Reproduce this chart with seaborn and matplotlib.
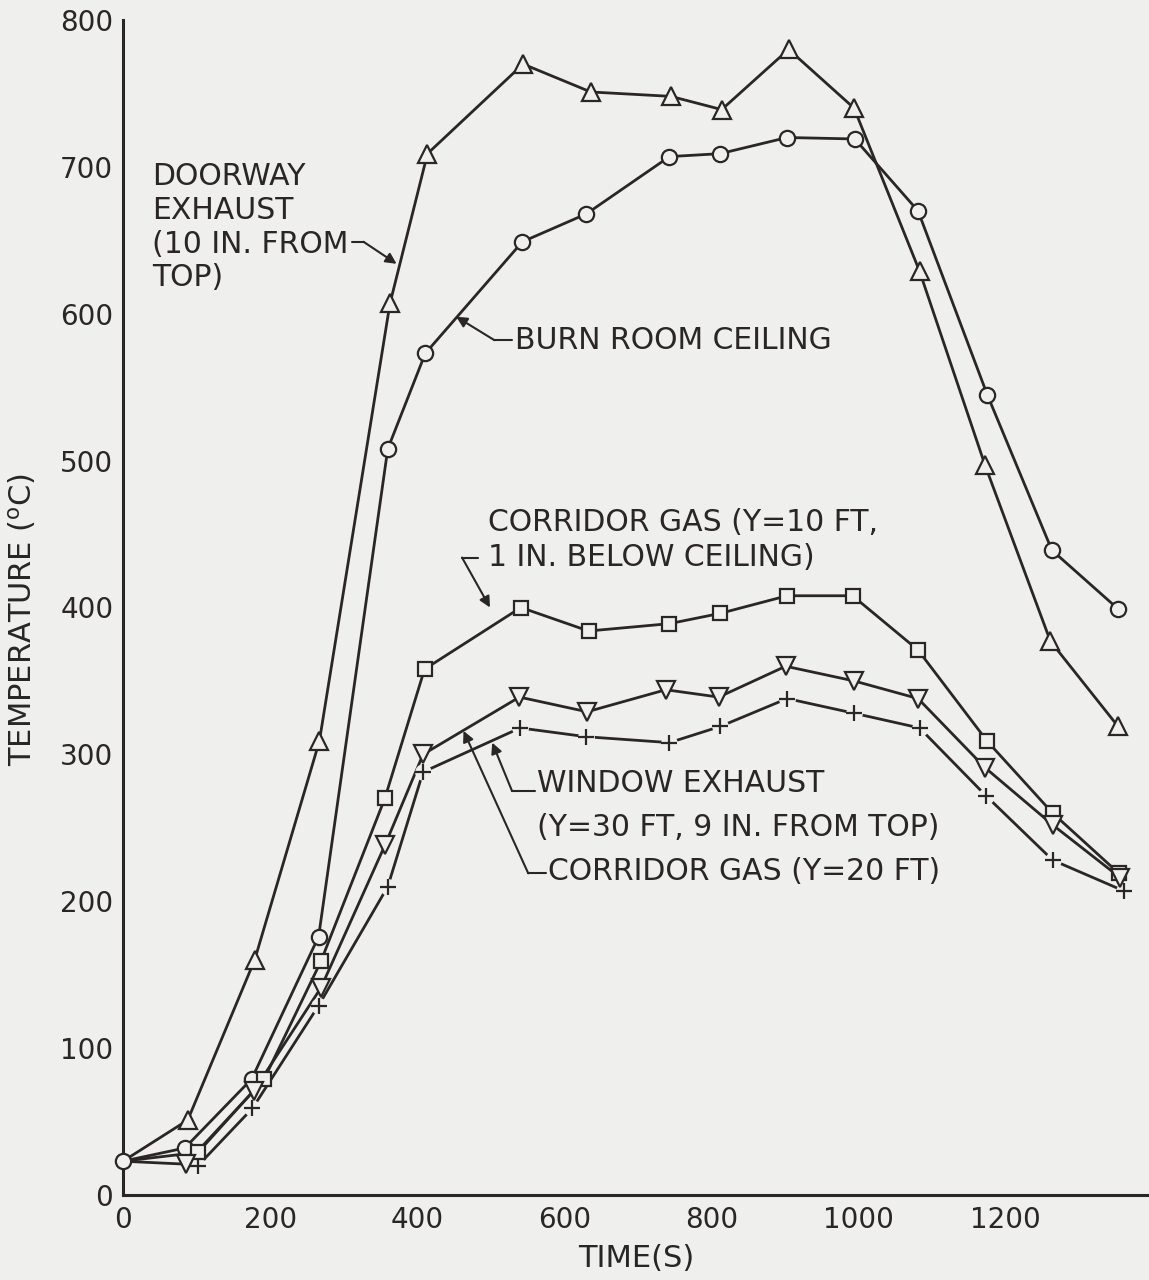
import matplotlib
matplotlib.use("Agg")
import matplotlib.pyplot as plt
import seaborn as sns

# valores: tiempo (s) y temperatura (C)
start_t = [0]
start_T = [23]

doorway_t = [88, 179, 267, 363, 414, 544, 636, 745, 814, 905, 994, 1083, 1172, 1261, 1353]
doorway_T = [51, 160, 309, 607, 709, 770, 751, 748, 739, 780, 740, 629, 497, 377, 319]

burn_t = [0, 84, 175, 266, 360, 411, 543, 630, 743, 812, 903, 995, 1081, 1175, 1263, 1353]
burn_T = [23, 32, 79, 176, 508, 573, 649, 668, 707, 709, 720, 719, 670, 545, 439, 399]

corr10_t = [102, 192, 269, 356, 410, 541, 633, 743, 812, 903, 992, 1081, 1175, 1264, 1354]
corr10_T = [29, 79, 159, 270, 358, 400, 384, 389, 396, 408, 408, 371, 309, 260, 219]

window_t = [85, 178, 269, 356, 408, 539, 631, 738, 810, 901, 994, 1081, 1172, 1264, 1356]
window_T = [21, 71, 141, 238, 300, 339, 329, 344, 339, 360, 350, 338, 291, 252, 216]

corr20_t = [102, 176, 266, 360, 408, 540, 630, 743, 812, 903, 994, 1083, 1173, 1264, 1361]
corr20_T = [20, 59, 129, 210, 288, 318, 312, 308, 319, 338, 328, 318, 272, 228, 207]

x_ticks = [0, 200, 400, 600, 800, 1000, 1200]
y_ticks = [0, 100, 200, 300, 400, 500, 600, 700, 800]

BG = "#efefed"
INK = "#2b2626"

sns.set_style("white")
plt.rcParams["font.family"] = ["DejaVu Sans"]
plt.rcParams["text.color"] = INK

fig = plt.figure(figsize=(11.49, 12.8), dpi=100, facecolor=BG)
ax = fig.add_axes([123 / 1149, 85 / 1280, 1 - 123 / 1149, 1175 / 1280])
ax.set_facecolor(BG)

# curvas (todas salen del mismo punto inicial excepto la de +)
lines = [
    (start_t + doorway_t, start_T + doorway_T),
    (burn_t, burn_T),
    (start_t + corr10_t, start_T + corr10_T),
    (start_t + window_t, start_T + window_T),
    (corr20_t, corr20_T),
]
for tt, TT in lines:
    sns.lineplot(x=tt, y=TT, ax=ax, color=INK, linewidth=2.0, sort=False,
                 estimator=None, zorder=2)

# marcadores huecos
mk = dict(linestyle="none", mfc=BG, mec=INK, mew=1.6, clip_on=False, zorder=4)
ax.plot(doorway_t, doorway_T, marker="^", ms=13, **mk)
ax.plot(burn_t, burn_T, marker="o", ms=11, **mk)
ax.plot(corr10_t, corr10_T, marker="s", ms=10, **mk)
ax.plot(window_t, window_T, marker="v", ms=13, **mk)
# las cruces cortan la linea
ax.plot(corr20_t, corr20_T, linestyle="none", marker="o", ms=11, mfc=BG, mec=BG, zorder=3)
ax.plot(corr20_t, corr20_T, linestyle="none", marker="+", ms=11, mec=INK, mew=1.6,
        clip_on=False, zorder=4)

# etiquetas con flechas
fs = 21.5
arrow = dict(arrowstyle="-|>", color=INK, lw=1.5, mutation_scale=16,
             shrinkA=0, shrinkB=0)

ax.text(39, 703, "DOORWAY\nEXHAUST\n(10 IN. FROM\nTOP)", fontsize=fs,
        va="top", ha="left", linespacing=1.2)
ax.plot([311, 327], [649, 649], color=INK, lw=1.5)
ax.annotate("", xy=(372, 634), xytext=(327, 649), arrowprops=arrow)

ax.text(533, 582, "BURN ROOM CEILING", fontsize=fs, va="center", ha="left")
ax.plot([529, 505], [582, 582], color=INK, lw=1.5)
ax.annotate("", xy=(453, 598), xytext=(505, 582), arrowprops=arrow)

ax.text(496, 458, "CORRIDOR GAS (Y=10 FT,", fontsize=fs, va="center", ha="left")
ax.text(496, 434, "1 IN. BELOW CEILING)", fontsize=fs, va="center", ha="left")
ax.plot([482, 461], [434, 434], color=INK, lw=1.5)
ax.annotate("", xy=(499, 400), xytext=(461, 434), arrowprops=arrow)

ax.text(563, 280.5, "WINDOW EXHAUST", fontsize=fs, va="center", ha="left")
ax.text(563, 250.5, "(Y=30 FT, 9 IN. FROM TOP)", fontsize=fs, va="center", ha="left")
ax.plot([560, 529], [275, 275], color=INK, lw=1.5)
ax.annotate("", xy=(502, 308), xytext=(529, 275), arrowprops=arrow)

ax.text(578, 220.5, "CORRIDOR GAS (Y=20 FT)", fontsize=fs, va="center", ha="left")
ax.plot([575, 551], [219, 219], color=INK, lw=1.5)
ax.annotate("", xy=(463, 316), xytext=(551, 219), arrowprops=arrow)

# ejes
ax.set_xlim(0, 1395)
ax.set_ylim(0, 800)
ax.set_xticks(x_ticks)
ax.set_yticks(y_ticks)
ax.tick_params(direction="in", length=10, width=1.8, colors=INK, labelsize=20)
ax.tick_params(axis="y", pad=7)
ax.tick_params(axis="x", pad=8)
for s in ["top", "right"]:
    ax.spines[s].set_visible(False)
for s in ["left", "bottom"]:
    ax.spines[s].set_linewidth(2.2)
    ax.spines[s].set_color(INK)

ax.set_xlabel("TIME(S)", fontsize=22, labelpad=7)
ax.set_ylabel("TEMPERATURE ($^{\\mathrm{o}}$C)", fontsize=22, labelpad=14)
ax.yaxis.set_label_coords(-0.083, 0.49)

fig.savefig("out.png", dpi=100, facecolor=BG)
